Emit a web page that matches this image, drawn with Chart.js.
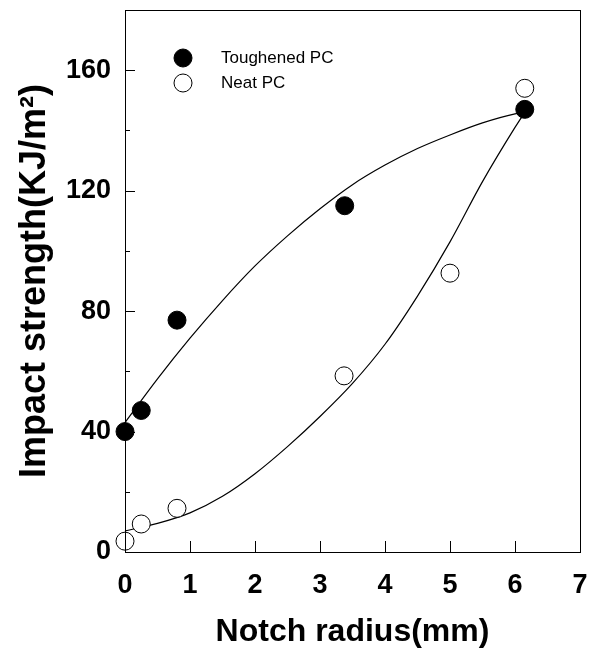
<!DOCTYPE html>
<html>
<head>
<meta charset="utf-8">
<script src="https://cdn.jsdelivr.net/npm/chart.js@4"></script>
<style>
  html, body { margin: 0; padding: 0; background: #fff; }
  #wrap { width: 590px; height: 651px; }
</style>
</head>
<body>
<div id="wrap"><canvas id="impactChart" width="590" height="651"></canvas></div>
<script>
// measured points
const notchToughened = [0, 0.25, 0.8, 3.38, 6.15];
const impactToughened = [40, 47, 77, 115, 147];
const notchNeat = [0, 0.25, 0.8, 3.37, 5.0, 6.15];
const impactNeat = [3.6, 9.3, 14.5, 58.5, 92.6, 154];

// fitted curves
const curveX = [0, 0.5, 1, 1.5, 2, 2.5, 3, 3.5, 4, 4.5, 5, 5.5, 6, 6.15];
const curveToughened = [43, 57.5, 71, 83.5, 95, 105, 114, 122, 128.5, 134, 138.5, 142.5, 145.5, 146];
const curveNeat = [7, 9.5, 13, 18.5, 26, 35, 45, 56, 69, 85, 103, 123, 141, 146];

const xTicks = [0, 1, 2, 3, 4, 5, 6, 7];
const yTicks = [0, 40, 80, 120, 160];
const legendLabels = ['Toughened PC', 'Neat PC'];

const toXY = (xs, ys) => xs.map((x, i) => ({ x: x, y: ys[i] }));

const fontFamily = 'Arial, "Liberation Sans", sans-serif';

// frame, inward ticks and legend
const framePlugin = {
  id: 'frame',
  afterDraw(chart) {
    const { ctx, chartArea: a, scales } = chart;
    ctx.save();
    ctx.strokeStyle = '#000';
    ctx.lineWidth = 1;
    ctx.strokeRect(Math.round(a.left) + 0.5, Math.round(a.top) + 0.5,
      Math.round(a.right - a.left), Math.round(a.bottom - a.top));
    ctx.beginPath();
    for (let v = 20; v < 180; v += 20) {
      const y = Math.round(scales.y.getPixelForValue(v)) + 0.5;
      const len = v % 40 === 0 ? 10 : 5;
      ctx.moveTo(a.left, y);
      ctx.lineTo(a.left + len, y);
    }
    xTicks.slice(1, -1).forEach(v => {
      const x = Math.round(scales.x.getPixelForValue(v)) + 0.5;
      ctx.moveTo(x, a.bottom);
      ctx.lineTo(x, a.bottom - 11);
    });
    ctx.stroke();

    // legend
    const lx = 183, ly = [58, 83];
    ctx.font = '17px ' + fontFamily;
    ctx.textBaseline = 'middle';
    legendLabels.forEach((t, i) => {
      ctx.beginPath();
      ctx.arc(lx, ly[i], 9, 0, Math.PI * 2);
      ctx.fillStyle = i === 0 ? '#000' : '#fff';
      ctx.fill();
      ctx.stroke();
      ctx.fillStyle = '#000';
      ctx.fillText(t, 221, ly[i]);
    });
    ctx.restore();
  }
};

new Chart(document.getElementById('impactChart'), {
  type: 'scatter',
  data: {
    datasets: [
      {
        label: 'Toughened PC fit',
        data: toXY(curveX, curveToughened),
        showLine: true,
        borderColor: '#000',
        borderWidth: 1.2,
        pointRadius: 0,
        cubicInterpolationMode: 'monotone',
        order: 2
      },
      {
        label: 'Neat PC fit',
        data: toXY(curveX, curveNeat),
        showLine: true,
        borderColor: '#000',
        borderWidth: 1.2,
        pointRadius: 0,
        cubicInterpolationMode: 'monotone',
        order: 2
      },
      {
        label: legendLabels[0],
        data: toXY(notchToughened, impactToughened),
        pointRadius: 9,
        pointBackgroundColor: '#000',
        pointBorderColor: '#000',
        pointBorderWidth: 1,
        order: 1
      },
      {
        label: legendLabels[1],
        data: toXY(notchNeat, impactNeat),
        pointRadius: 9,
        pointBackgroundColor: '#fff',
        pointBorderColor: '#000',
        pointBorderWidth: 1,
        order: 1
      }
    ]
  },
  options: {
    responsive: false,
    animation: false,
    clip: false,
    layout: { padding: { left: 0, right: 7, top: 9, bottom: 0 } },
    plugins: {
      legend: { display: false },
      tooltip: { enabled: false }
    },
    scales: {
      x: {
        type: 'linear',
        min: 0,
        max: 7,
        afterFit: s => { s.height = 99; s.paddingLeft = 0; s.paddingRight = 0; },
        afterBuildTicks: s => { s.ticks = xTicks.map(v => ({ value: v })); },
        grid: { display: false, drawTicks: false },
        border: { display: false },
        ticks: {
          color: '#000',
          padding: 17,
          font: { family: fontFamily, size: 27, weight: 'bold' }
        },
        title: {
          display: true,
          text: 'Notch radius(mm)',
          color: '#000',
          padding: { top: 0, bottom: 0 },
          font: { family: fontFamily, size: 32, weight: 'bold' }
        }
      },
      y: {
        type: 'linear',
        min: 0,
        max: 180,
        afterFit: s => { s.width = 125; s.paddingTop = 0; s.paddingBottom = 0; },
        afterBuildTicks: s => { s.ticks = yTicks.map(v => ({ value: v })); },
        grid: { display: false, drawTicks: false },
        border: { display: false },
        ticks: {
          color: '#000',
          padding: 14,
          font: { family: fontFamily, size: 27, weight: 'bold' }
        },
        title: {
          display: true,
          text: 'Impact strength(KJ/m²)',
          color: '#000',
          padding: { top: 13, bottom: 0 },
          font: { family: fontFamily, size: 36, weight: 'bold' }
        }
      }
    }
  },
  plugins: [framePlugin]
});
</script>
</body>
</html>
